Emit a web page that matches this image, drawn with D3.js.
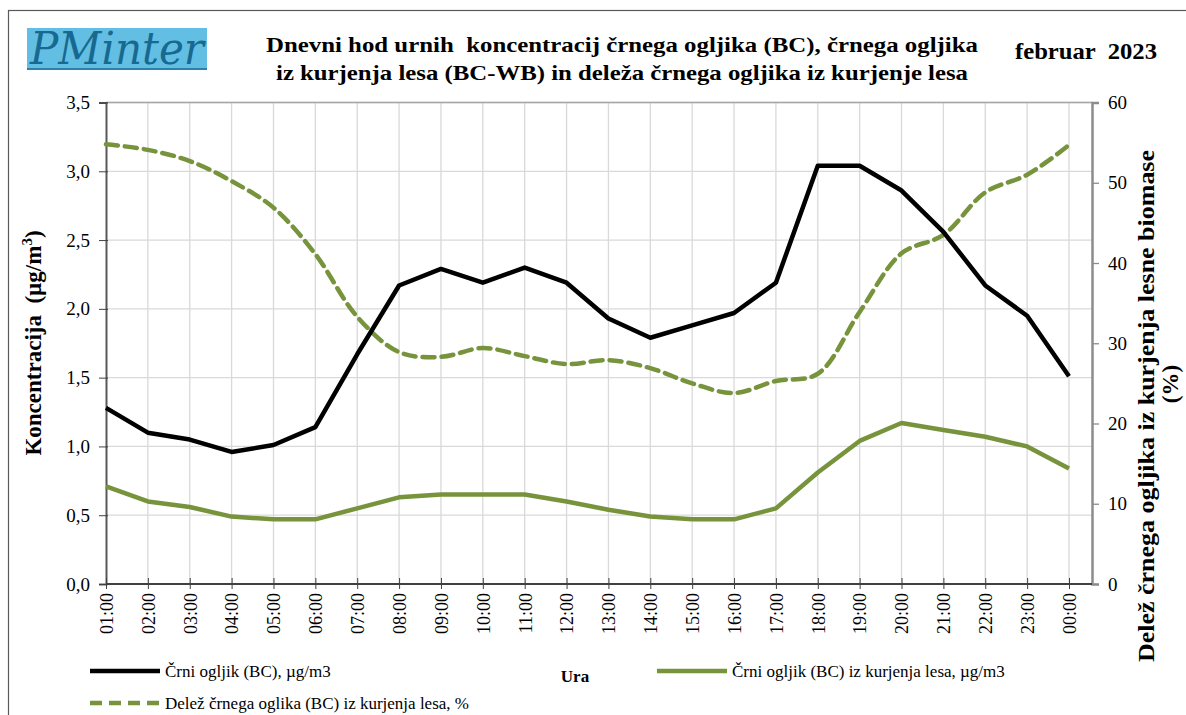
<!DOCTYPE html>
<html>
<head>
<meta charset="utf-8">
<script src="https://cdn.jsdelivr.net/npm/d3@7"></script>
<style>
  body { margin: 0; background: #fff; }
  svg text { font-family: "Liberation Serif", "Times New Roman", Times, serif; }
</style>
</head>
<body>
<svg id="chart" width="1186" height="715"></svg>
<script>
// categories (hours)
var hours = ['01:00','02:00','03:00','04:00','05:00','06:00','07:00','08:00','09:00','10:00','11:00','12:00',
             '13:00','14:00','15:00','16:00','17:00','18:00','19:00','20:00','21:00','22:00','23:00','00:00'];

// Črni ogljik (BC), µg/m3
var bc = [1.28, 1.10, 1.05, 0.96, 1.01, 1.14, 1.67, 2.17, 2.29, 2.19, 2.30, 2.19,
          1.93, 1.79, 1.88, 1.97, 2.19, 3.04, 3.04, 2.86, 2.56, 2.17, 1.95, 1.51];

// Črni ogljik (BC) iz kurjenja lesa, µg/m3
var bcwb = [0.71, 0.60, 0.56, 0.49, 0.47, 0.47, 0.55, 0.63, 0.65, 0.65, 0.65, 0.60,
            0.54, 0.49, 0.47, 0.47, 0.55, 0.81, 1.04, 1.17, 1.12, 1.07, 1.00, 0.84];

// Delež črnega ogljika (BC) iz kurjenja lesa, %
var share = [54.8, 54.1, 52.7, 50.2, 46.9, 41.1, 33.3, 28.9, 28.3, 29.4, 28.4, 27.4,
             27.9, 26.9, 25.0, 23.8, 25.3, 26.2, 33.9, 41.2, 43.5, 48.8, 51.0, 54.7];

var leftTicks = [0, 0.5, 1.0, 1.5, 2.0, 2.5, 3.0, 3.5];
var rightTicks = [0, 10, 20, 30, 40, 50, 60];

var green = '#77933c';
var svg = d3.select('#chart');

// frame
svg.append('rect')
  .attr('x', 8.5).attr('y', 10.5)
  .attr('width', 1200).attr('height', 720)
  .attr('fill', 'none').attr('stroke', '#595959').attr('stroke-width', 1.2);

// logo
var logo = svg.append('g');
logo.append('rect').attr('x', 27).attr('y', 28).attr('width', 180).attr('height', 42).attr('fill', '#62bfe3');
logo.append('rect').attr('x', 27).attr('y', 68).attr('width', 180).attr('height', 2).attr('fill', '#2a82ab');
logo.append('text')
  .attr('x', 30).attr('y', 64)
  .style('font-size', '45px').style('font-style', 'italic')
  .style('font-family', '"DejaVu Serif", serif')
  .attr('textLength', 174).attr('lengthAdjust', 'spacingAndGlyphs')
  .attr('fill', '#17698f')
  .text('PMinter');

// title
var title = svg.append('text')
  .attr('text-anchor', 'middle')
  .style('font-weight', 'bold').style('font-size', '21px')
  .style('white-space', 'pre');
title.append('tspan').attr('x', 622).attr('y', 52)
  .attr('textLength', 712).attr('lengthAdjust', 'spacingAndGlyphs')
  .text('Dnevni hod urnih  koncentracij črnega ogljika (BC), črnega ogljika');
title.append('tspan').attr('x', 622).attr('y', 80)
  .attr('textLength', 692).attr('lengthAdjust', 'spacingAndGlyphs')
  .text('iz kurjenja lesa (BC-WB) in deleža črnega ogljika iz kurjenje lesa');

svg.append('text')
  .attr('x', 1086).attr('y', 59).attr('text-anchor', 'middle')
  .style('font-weight', 'bold').style('font-size', '23px')
  .style('white-space', 'pre')
  .attr('textLength', 142).attr('lengthAdjust', 'spacingAndGlyphs')
  .text('februar  2023');

// scales
var x0 = 106, x1 = 1069, xAxisEnd = 1092;
var x = d3.scalePoint().domain(hours).range([x0, x1]);
var yL = d3.scaleLinear().domain([0, 3.5]).range([584, 102.5]);
var yR = d3.scaleLinear().domain([0, 60]).range([584, 102.5]);

// grid
var grid = svg.append('g');
grid.selectAll('.hg').data(leftTicks.slice(1)).enter().append('line')
  .attr('x1', x0).attr('x2', xAxisEnd)
  .attr('y1', function(d){ return yL(d); }).attr('y2', function(d){ return yL(d); })
  .attr('stroke', '#d9d9d9').attr('stroke-width', 1.3);
grid.selectAll('.vg').data(hours.slice(1)).enter().append('line')
  .attr('x1', function(d){ return x(d); }).attr('x2', function(d){ return x(d); })
  .attr('y1', yL(3.5)).attr('y2', yL(0))
  .attr('stroke', '#d9d9d9').attr('stroke-width', 1.3);
svg.append('line').attr('x1', x0).attr('x2', xAxisEnd).attr('y1', yL(3.5)).attr('y2', yL(3.5))
  .attr('stroke', '#a6a6a6').attr('stroke-width', 1.5);

// left axis
var leftAxis = svg.append('g')
  .attr('transform', 'translate(' + x0 + ',0)')
  .call(d3.axisLeft(yL).tickValues(leftTicks).tickSize(7).tickPadding(9)
    .tickFormat(function(d){ return d3.format('.1f')(d).replace('.', ','); }));
leftAxis.select('.domain').attr('stroke', '#595959').attr('stroke-width', 2);
leftAxis.selectAll('.tick line').attr('stroke', '#404040').attr('x2', 2).attr('x1', -7);
leftAxis.selectAll('.tick text').style('font-size', '19px').attr('fill', '#000')
  .style('font-family', '"Liberation Serif", serif');

// right axis
var rightAxis = svg.append('g')
  .attr('transform', 'translate(' + xAxisEnd + ',0)')
  .call(d3.axisRight(yR).tickValues(rightTicks).tickSize(7).tickPadding(9));
rightAxis.select('.domain').attr('stroke', '#8c8c8c').attr('stroke-width', 2.5);
rightAxis.selectAll('.tick line').attr('stroke', '#8c8c8c').attr('stroke-width', 1.3);
rightAxis.selectAll('.tick text').style('font-size', '19px').attr('fill', '#000')
  .style('font-family', '"Liberation Serif", serif');

// bottom axis
var bottomAxis = svg.append('g')
  .attr('transform', 'translate(0,' + yL(0) + ')')
  .call(d3.axisBottom(x).tickSize(5).tickSizeOuter(0).tickPadding(6));
bottomAxis.select('.domain').attr('d', 'M' + x0 + ',0H' + xAxisEnd)
  .attr('stroke', '#404040').attr('stroke-width', 2);
bottomAxis.selectAll('.tick line').attr('y1', -6).attr('y2', 5).attr('stroke', '#404040');
bottomAxis.selectAll('.tick text')
  .style('font-size', '18px').attr('fill', '#000')
  .style('font-family', '"Liberation Serif", serif')
  .attr('text-anchor', 'end')
  .attr('transform', 'rotate(-90)')
  .attr('x', -9).attr('y', 0).attr('dy', '0.35em');

// lines
var lineL = d3.line().x(function(d, i){ return x(hours[i]); }).y(function(d){ return yL(d); });
var lineR = d3.line().x(function(d, i){ return x(hours[i]); }).y(function(d){ return yR(d); })
  .curve(d3.curveCatmullRom.alpha(0.5));

svg.append('path').datum(share).attr('d', lineR)
  .attr('fill', 'none').attr('stroke', green).attr('stroke-width', 4.5)
  .attr('stroke-dasharray', '12,7').attr('stroke-linecap', 'round');
svg.append('path').datum(bcwb).attr('d', lineL)
  .attr('fill', 'none').attr('stroke', green).attr('stroke-width', 4.5)
  .attr('stroke-linejoin', 'round');
svg.append('path').datum(bc).attr('d', lineL)
  .attr('fill', 'none').attr('stroke', '#000').attr('stroke-width', 4.5)
  .attr('stroke-linejoin', 'round');

// axis titles
svg.append('text')
  .attr('transform', 'translate(41,343) rotate(-90)')
  .attr('text-anchor', 'middle')
  .style('font-weight', 'bold').style('font-size', '23px')
  .style('white-space', 'pre')
  .html('Koncentracija  (µg/m<tspan dy="-9" style="font-size:15px">3</tspan><tspan dy="9">)</tspan>');

var rt = svg.append('text')
  .attr('transform', 'translate(1154,406) rotate(-90)')
  .attr('text-anchor', 'middle')
  .style('font-weight', 'bold').style('font-size', '23px');
rt.append('tspan').attr('x', 0).attr('y', 0)
  .attr('textLength', 512).attr('lengthAdjust', 'spacingAndGlyphs')
  .text('Delež črnega ogljika iz kurjenja lesne biomase');
rt.append('tspan').attr('x', 22).attr('y', 24).text('(%)');

svg.append('text')
  .attr('x', 575).attr('y', 682).attr('text-anchor', 'middle')
  .style('font-weight', 'bold').style('font-size', '17px')
  .text('Ura');

// legend
var legendItems = [
  {label: 'Črni ogljik (BC), µg/m3', color: '#000', dash: null, x: 90, y: 671},
  {label: 'Črni ogljik (BC) iz kurjenja lesa, µg/m3', color: green, dash: null, x: 657, y: 671},
  {label: 'Delež črnega oglika (BC) iz kurjenja lesa, %', color: green, dash: '12,7', x: 90, y: 703}
];
var lg = svg.append('g').selectAll('g').data(legendItems).enter().append('g');
lg.append('line')
  .attr('x1', function(d){ return d.x; }).attr('x2', function(d){ return d.x + 70; })
  .attr('y1', function(d){ return d.y; }).attr('y2', function(d){ return d.y; })
  .attr('stroke', function(d){ return d.color; }).attr('stroke-width', 4.5)
  .attr('stroke-dasharray', function(d){ return d.dash; });
lg.append('text')
  .attr('x', function(d){ return d.x + 75; }).attr('y', function(d){ return d.y + 6; })
  .style('font-size', '17px')
  .text(function(d){ return d.label; });
</script>
</body>
</html>
